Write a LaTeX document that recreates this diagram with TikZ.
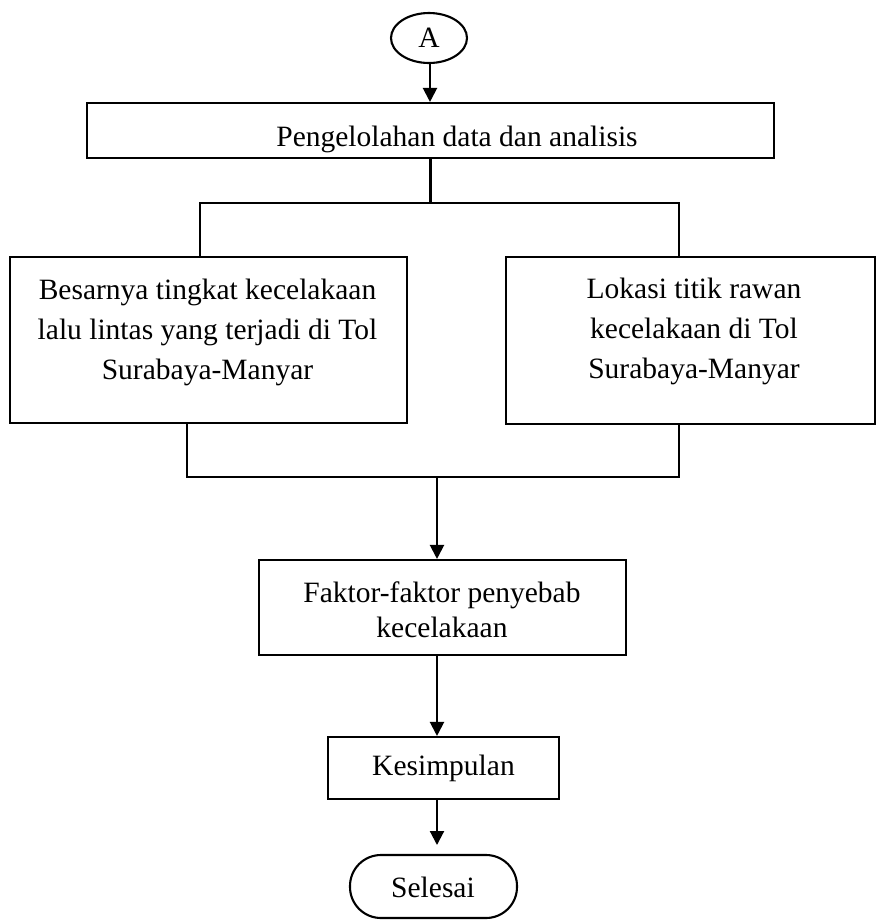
\documentclass[tikz,border=0pt]{standalone}
\usepackage{fontspec}
\setmainfont{Liberation Serif}
\usetikzlibrary{arrows.meta,shapes.geometric}
\begin{document}
\begin{tikzpicture}[x=1pt,y=-1pt,
 box/.style={draw,line width=2.1pt,inner sep=0pt,font=\fontsize{29.5}{38}\selectfont,align=center},
 txt/.style={inner sep=0pt,font=\fontsize{29.5}{40}\selectfont,align=center},
 link/.style={line width=2.1pt},
 arr/.style={line width=2.1pt,-{Triangle[width=14pt,length=14pt]}}]
\useasboundingbox (0,0) rectangle (877,922);
% nodes
\node[box,ellipse,minimum width=76pt,minimum height=50pt] (A) at (429,38) {A};
\node[box,minimum width=687pt,minimum height=55pt] (P) at (430.5,130.5) {};
\node[txt] (Pt) at (457,139) {Pengelolahan data dan analisis};
\node[box,minimum width=397pt,minimum height=166pt] (L) at (208.5,340) {};
\node[txt] (Lt) at (207.5,332) {Besarnya tingkat kecelakaan\\lalu lintas yang terjadi di Tol\\Surabaya-Manyar};
\node[box,minimum width=369pt,minimum height=167pt] (R) at (690.5,340.5) {};
\node[txt] (Rt) at (694,331) {Lokasi titik rawan\\kecelakaan di Tol\\Surabaya-Manyar};
\node[box,minimum width=367pt,minimum height=95pt] (F) at (442.5,607.5) {};
\node[txt,font=\fontsize{29.5}{35}\selectfont] (Ft) at (442,609.5) {Faktor-faktor penyebab\\kecelakaan};
\node[box,minimum width=231pt,minimum height=62pt] (K) at (443.5,768) {Kesimpulan};
\node[box,rounded corners=31pt,minimum width=167pt,minimum height=63pt] (S) at (433.5,886.5) {};
\node[txt] (St) at (433,887) {Selesai};
% connectors
\coordinate (ap) at (430,63);
\draw[arr] (ap) -- (ap|-P.north);
\coordinate (jm) at (430.5,203);
\coordinate (jl) at (200,203);
\coordinate (jr) at (679,203);
\draw[link] (P.south) -- (jm);
\draw[link] (L.north-|jl) -- (jl) -- (jr) -- (R.north-|jr);
\coordinate (bl) at (187,477);
\coordinate (br) at (679,477);
\coordinate (bm) at (437,477);
\draw[link] (L.south-|bl) -- (bl) -- (br) -- (R.south-|br);
\draw[arr] (bm) -- (bm|-F.north);
\coordinate (fk) at (437,655);
\draw[arr] (fk) -- (fk|-K.north);
\coordinate (ks) at (437,799);
\coordinate (ke) at (437,845);
\draw[arr] (ks) -- (ke);
\end{tikzpicture}
\end{document}
